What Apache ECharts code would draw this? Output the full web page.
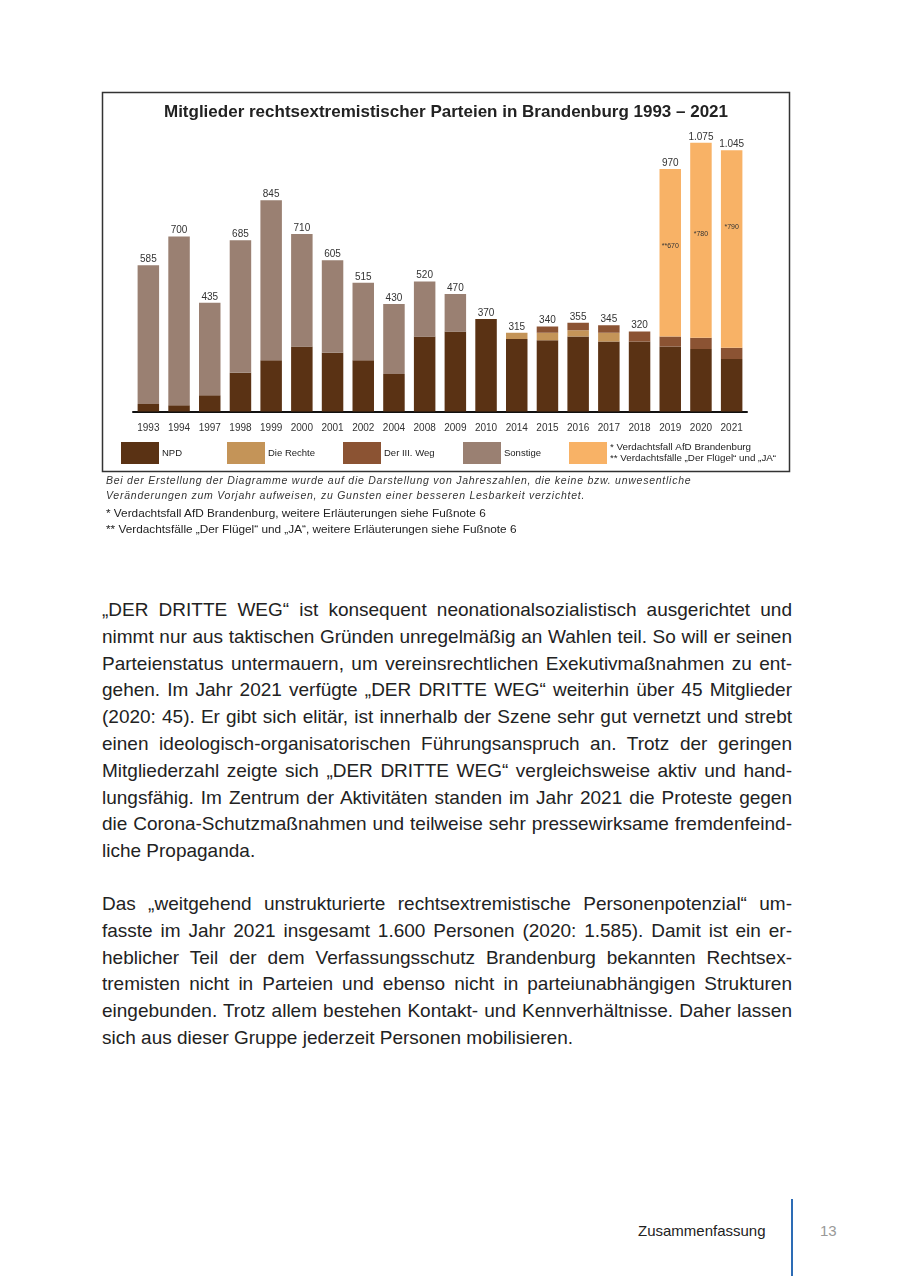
<!DOCTYPE html>
<html>
<head>
<meta charset="utf-8">
<script src="https://cdn.jsdelivr.net/npm/echarts@6/dist/echarts.min.js"></script>
<style>
  html, body { margin: 0; padding: 0; background: #fff; }
  body { width: 900px; height: 1276px; position: relative; overflow: hidden; font-family: "Liberation Sans", Arial, sans-serif; }
  #chart { position: absolute; left: 0; top: 0; width: 900px; height: 475px; }
  .note { position: absolute; left: 106px; color: #333; white-space: nowrap; }
  .it { font-style: italic; font-size: 10.5px; letter-spacing: 0.75px; }
  .fn { font-size: 11.8px; color: #222; }
  .body { position: absolute; left: 102px; width: 690px; font-size: 19px; line-height: 26.8px; color: #222; }
  .body div { text-align: justify; text-align-last: justify; white-space: nowrap; }
  .body div.last { text-align: left; text-align-last: left; }
  #footer-t { position: absolute; left: 638px; top: 1222px; font-size: 15px; color: #222; }
  #footer-n { position: absolute; left: 820px; top: 1222px; font-size: 15px; color: #999; }
  #footer-l { position: absolute; left: 791px; top: 1199px; width: 2px; height: 77px; background: #2d6cb5; }
</style>
</head>
<body>
<div id="chart"></div>
<div class="note it" style="top:474px;">Bei der Erstellung der Diagramme wurde auf die Darstellung von Jahreszahlen, die keine bzw. unwesentliche</div>
<div class="note it" style="top:489px;">Veränderungen zum Vorjahr aufweisen, zu Gunsten einer besseren Lesbarkeit verzichtet.</div>
<div class="note fn" style="top:506px;">* Verdachtsfall AfD Brandenburg, weitere Erläuterungen siehe Fußnote 6</div>
<div class="note fn" style="top:522px;">** Verdachtsfälle „Der Flügel“ und „JA“, weitere Erläuterungen siehe Fußnote 6</div>

<div class="body" style="top:597px;">
<div>„DER DRITTE WEG“ ist konsequent neonationalsozialistisch ausgerichtet und</div>
<div>nimmt nur aus taktischen Gründen unregelmäßig an Wahlen teil. So will er seinen</div>
<div>Parteienstatus untermauern, um vereinsrechtlichen Exekutivmaßnahmen zu ent-</div>
<div>gehen. Im Jahr 2021 verfügte „DER DRITTE WEG“ weiterhin über 45 Mitglieder</div>
<div>(2020: 45). Er gibt sich elitär, ist innerhalb der Szene sehr gut vernetzt und strebt</div>
<div>einen ideologisch-organisatorischen Führungsanspruch an. Trotz der geringen</div>
<div>Mitgliederzahl zeigte sich „DER DRITTE WEG“ vergleichsweise aktiv und hand-</div>
<div>lungsfähig. Im Zentrum der Aktivitäten standen im Jahr 2021 die Proteste gegen</div>
<div>die Corona-Schutzmaßnahmen und teilweise sehr pressewirksame fremdenfeind-</div>
<div class="last">liche Propaganda.</div>
</div>

<div class="body" style="top:891px;">
<div>Das „weitgehend unstrukturierte rechtsextremistische Personenpotenzial“ um-</div>
<div>fasste im Jahr 2021 insgesamt 1.600 Personen (2020: 1.585). Damit ist ein er-</div>
<div>heblicher Teil der dem Verfassungsschutz Brandenburg bekannten Rechtsex-</div>
<div>tremisten nicht in Parteien und ebenso nicht in parteiunabhängigen Strukturen</div>
<div>eingebunden. Trotz allem bestehen Kontakt- und Kennverhältnisse. Daher lassen</div>
<div class="last">sich aus dieser Gruppe jederzeit Personen mobilisieren.</div>
</div>

<div id="footer-t">Zusammenfassung</div>
<div id="footer-l"></div>
<div id="footer-n">13</div>

<script>
// ---- data ----
const years = ['1993','1994','1997','1998','1999','2000','2001','2002','2004','2008','2009','2010','2014','2015','2016','2017','2018','2019','2020','2021'];
const totals    = [585,700,435,685,845,710,605,515,430,520,470,370,315,340,355,345,320,970,1075,1045];
const npd       = [30,25,65,155,205,260,235,205,150,300,320,370,290,285,300,280,280,260,250,210];
const dieRechte = [0,0,0,0,0,0,0,0,0,0,0,0,25,30,25,35,0,0,0,0];
const dritterWeg= [0,0,0,0,0,0,0,0,0,0,0,0,0,25,30,30,40,40,45,45];
const sonstige  = [555,675,370,530,640,450,370,310,280,220,150,0,0,0,0,0,0,0,0,0];
const afd       = [0,0,0,0,0,0,0,0,0,0,0,0,0,0,0,0,0,670,780,790];
const afdMark   = ['','','','','','','','','','','','','','','','','','**','*','*'];

const afdLegend = '* Verdachtsfall AfD Brandenburg\n** Verdachtsfälle „Der Flügel“ und „JA“';

// label placement inside the AfD segment (fraction of segment height from top), styling only
const afdLabelFrac = {'2019':'46%', '2020':'47%', '2021':'39%'};

const colors = { npd:'#5a3214', rechte:'#c49458', weg:'#8b5333', sonst:'#9a8072', afd:'#f8b266' };

function fmt(v){ return v >= 1000 ? Math.floor(v/1000) + '.' + String(v%1000).padStart(3,'0') : String(v); }

const chart = echarts.init(document.getElementById('chart'), null, {renderer:'canvas'});
const BW = '70%';
function seg(name, data, color, extra){
  return Object.assign({
    name, type:'bar', stack:'total', data: data.map(v => v === 0 ? null : v),
    barWidth: BW, itemStyle:{color}, emphasis:{disabled:true}
  }, extra || {});
}
function leg(name, left, extra){
  return Object.assign({
    data:[name], left, top:442, padding:0, orient:'horizontal', icon:'rect',
    itemWidth:38, itemHeight:22, selectedMode:false,
    textStyle:{fontSize:9.5, color:'#222', fontFamily:'Liberation Sans', padding:[0,0,0,-2]}
  }, extra || {});
}

const afdData = afd.map((v, i) => v === 0 ? null : {
  value: v,
  label: { show:true, position:['50%', afdLabelFrac[years[i]] || '50%'], align:'center', verticalAlign:'middle',
           fontSize:7, color:'#333', formatter: () => afdMark[i] + v }
});

chart.setOption({
  animation:false,
  textStyle:{fontFamily:'Liberation Sans'},
  title:{ text:'Mitglieder rechtsextremistischer Parteien in Brandenburg 1993 – 2021', left:446, top:104, padding:0, textAlign:'center',
          textStyle:{fontSize:17, fontWeight:'bold', color:'#222', fontFamily:'Liberation Sans'} },
  graphic:[{ type:'rect', shape:{x:102.5, y:92.5, width:687, height:379}, style:{fill:'none', stroke:'#333', lineWidth:1.5}, silent:true }],
  legend:[
    leg('NPD',121),
    leg('Die Rechte',227),
    leg('Der III. Weg',343),
    leg('Sonstige',463),
    leg('AfD',569,{formatter:() => afdLegend, textStyle:{fontSize:9.8, lineHeight:11, color:'#222', fontFamily:'Liberation Sans', padding:[0,0,0,-2]}})
  ],
  grid:{ left:133, width:614, top:111.5, height:300 },
  xAxis:{ type:'category', data:years, boundaryGap:true,
    axisLine:{lineStyle:{color:'#111', width:2}}, axisTick:{show:false},
    axisLabel:{fontSize:10, color:'#333', margin:12, interval:0} },
  yAxis:{ type:'value', min:0, max:1200, show:false, splitLine:{show:false} },
  series:[
    seg('NPD', npd, colors.npd),
    seg('Die Rechte', dieRechte, colors.rechte),
    seg('Der III. Weg', dritterWeg, colors.weg),
    seg('Sonstige', sonstige, colors.sonst),
    { name:'AfD', type:'bar', stack:'total', data: afdData, barWidth:BW, itemStyle:{color:colors.afd}, emphasis:{disabled:true} },
    { name:'Summe', type:'bar', data:totals, barWidth:BW, barGap:'-100%', z:1,
      itemStyle:{color:'rgba(0,0,0,0)'}, emphasis:{disabled:true},
      label:{ show:true, position:'top', distance:1, fontSize:10, color:'#333', formatter:p => fmt(p.value) } }
  ]
});
</script>
</body>
</html>
